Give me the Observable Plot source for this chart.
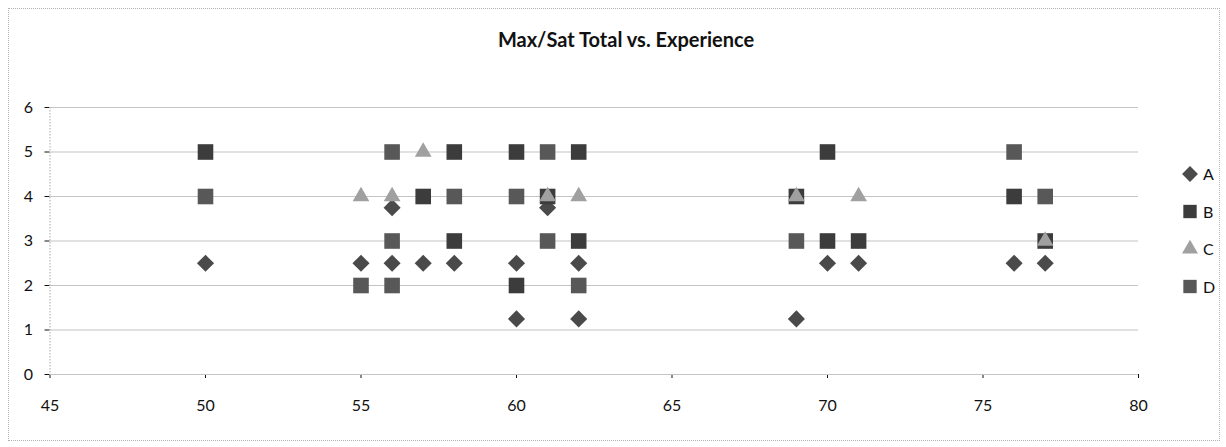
<!DOCTYPE html>
<html><head><meta charset="utf-8">
<script src="https://cdn.jsdelivr.net/npm/d3@7"></script>
<script src="https://cdn.jsdelivr.net/npm/@observablehq/plot@0.6"></script>
<style>
body{margin:0;background:#fff;font-family:Lato,"Open Sans",sans-serif}
#wrap{position:relative;width:1226px;height:447px}
#frame{position:absolute;left:8px;top:8px;width:1212px;height:433px;border:1px dotted #b0b0b0;box-sizing:border-box;pointer-events:none}
#title{position:absolute;top:27px;left:13px;width:1226px;text-align:center;font-weight:bold;font-size:20px;color:#111}
#plot{position:absolute;left:0;top:0}
#legend{position:absolute;left:1166px;top:160px}
</style></head><body>
<div id="wrap"><div id="plot"></div><div id="frame"></div><div id="title">Max/Sat Total vs. Experience</div><svg id="legend" width="60" height="150"></svg></div>
<script>
const seriesNames = ["A","B","C","D"];
const seriesColors = ["#4a4a4a","#3c3c3c","#a0a0a0","#585858"];
const xTicks = [45,50,55,60,65,70,75,80];
const yTicks = [0,1,2,3,4,5,6];
const aX = [50,55,56,56,57,58,60,60,61,62,62,69,70,71,76,77];
const aY = [2.5,2.5,3.75,2.5,2.5,2.5,2.5,1.25,3.75,2.5,1.25,1.25,2.5,2.5,2.5,2.5];
const bX = [50,57,58,58,60,60,61,62,62,69,70,70,71,76,77];
const bY = [5,4,5,3,5,2,4,5,3,4,5,3,3,4,3];
const cX = [55,56,57,61,62,69,71,77];
const cY = [4,4,5,4,4,4,4,3];
const dX = [50,55,56,56,56,58,60,61,61,62,69,76,77];
const dY = [4,2,5,3,2,4,4,5,3,2,3,5,4];

const pts = (xs, ys) => xs.map((x,i)=>({x, y: ys[i]}));
const A = pts(aX,aY), B = pts(bX,bY), C = pts(cX,cY), D = pts(dX,dY);
const shapes = {A:["diamond2",7.7], B:["square",8.8], C:["triangle",6.2], D:["square",8.8]};
const dot = (data, name) => Plot.dot(data, {x:"x", y:"y", symbol: ()=>shapes[name][0], r: shapes[name][1], fill: seriesColors[seriesNames.indexOf(name)], stroke:"none"});

const chart = Plot.plot({
  width: 1226, height: 447,
  marginLeft: 49.5, marginRight: 88, marginTop: 107, marginBottom: 73,
  style: {fontFamily: "Lato, 'Open Sans', sans-serif", fontSize: "16px", color: "#111", background: "transparent"},
  x: {domain: [45,80], ticks: xTicks, tickSize: 4, tickPadding: 21, label: null, line: false},
  y: {domain: [0,6], ticks: yTicks, tickSize: 5, tickPadding: 12, label: null, tickFormat: d3.format("d")},
  symbol: {type: "identity"},
  marks: [
    Plot.ruleY(yTicks, {stroke: "#c4c4c4", strokeWidth: 1.2}),
    Plot.ruleX([45], {stroke: "#aaa", strokeDasharray: "1.5,1.5"}),
    dot(A, "A"),
    dot(B, "B"),
    dot(D, "D"),
    dot(C, "C")
  ]
});
document.getElementById("plot").append(chart);

// legend
const lg = d3.select("#legend");
const legendShapes = {A:[d3.symbolDiamond2, 160], B:[d3.symbolSquare, 178], C:[d3.symbolTriangle, 110], D:[d3.symbolSquare, 178]};
seriesNames.forEach((n,i)=>{
  const g = lg.append("g").attr("transform", `translate(24,${14 + i*37.5})`);
  const [s, size] = legendShapes[n];
  g.append("path").attr("d", d3.symbol(s, size)()).attr("fill", seriesColors[i]);
  g.append("text").attr("x", 13).attr("y", 6).attr("font-size", 16).attr("fill", "#111").attr("font-family", "Lato, 'Open Sans', sans-serif").text(n);
});
</script>
</body></html>
